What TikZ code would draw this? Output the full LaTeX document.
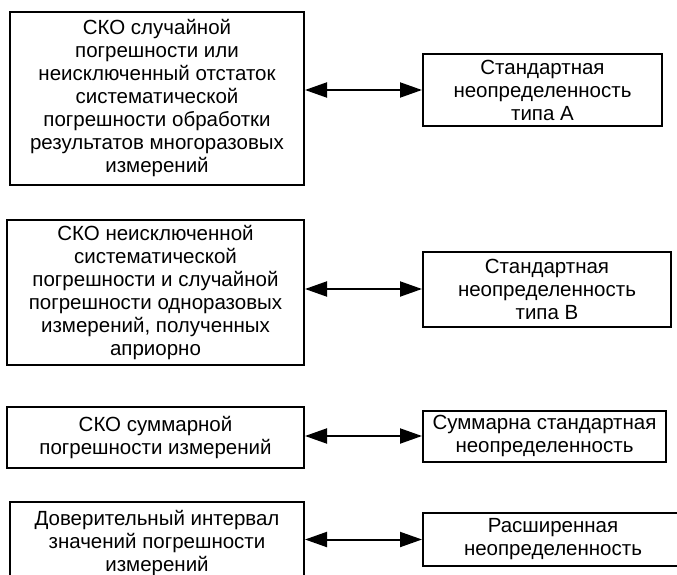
\documentclass[tikz,border=0pt]{standalone}
\usepackage{fontspec}
\setmainfont{Liberation Sans}
\usetikzlibrary{arrows.meta}
\begin{document}
\begin{tikzpicture}[x=1pt,y=-1pt,
  box/.style={draw,line width=2pt,align=center,inner sep=0pt,font=\fontsize{20.5}{23}\selectfont},
  link/.style={line width=2pt,{Triangle[length=22pt,width=15pt]}-{Triangle[length=22pt,width=15pt]}}]
\useasboundingbox (0,0) rectangle (677,575);
\clip (0,0) rectangle (677,575);
\node[box,minimum width=294pt,minimum height=173pt] (l1) at (157,98.5)
  {СКО случайной\\погрешности или\\неисключенный отстаток\\систематической\\погрешности обработки\\результатов многоразовых\\измерений};
\node[box,minimum width=239pt,minimum height=72pt] (r1) at (542.5,90)
  {Стандартная\\неопределенность\\типа А};
\node[box,minimum width=297pt,minimum height=145pt] (l2) at (155.5,292.5)
  {СКО неисключенной\\систематической\\погрешности и случайной\\погрешности одноразовых\\измерений, полученных\\априорно};
\node[box,minimum width=248pt,minimum height=75pt] (r2) at (547,289)
  {Стандартная\\неопределенность\\типа В};
\node[box,minimum width=297pt,minimum height=61pt] (l3) at (155.5,437.5)
  {СКО суммарной\\погрешности измерений};
\node[box,minimum width=243pt,minimum height=51pt] (r3) at (544.5,436)
  {Суммарна стандартная\\неопределенность};
\node[box,minimum width=294pt,minimum height=82pt] (l4) at (157,543)
  {Доверительный интервал\\значений погрешности\\измерений};
\node[box,minimum width=260pt,minimum height=53pt] (r4) at (553,539.5)
  {Расширенная\\неопределенность};
\draw[link] (r1.west -| l1.east) -- (r1.west);
\draw[link] (r2.west -| l2.east) -- (r2.west);
\draw[link] (r3.west -| l3.east) -- (r3.west);
\draw[link] (r4.west -| l4.east) -- (r4.west);
\end{tikzpicture}
\end{document}
